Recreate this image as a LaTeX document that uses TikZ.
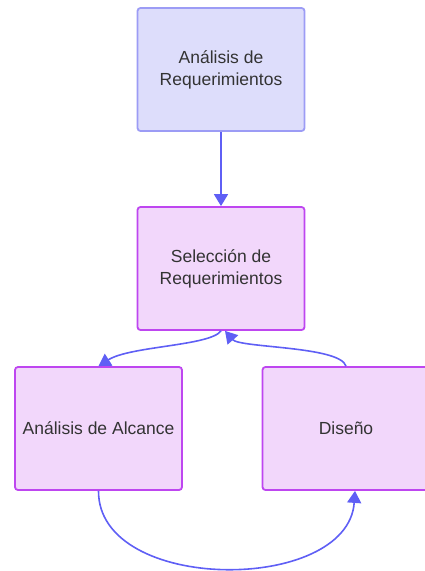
\documentclass[tikz,border=0pt]{standalone}
\usepackage{fontspec}
\setmainfont{Liberation Sans}
\usetikzlibrary{arrows.meta}
\definecolor{reqfill}{RGB}{221,221,251}
\definecolor{reqline}{RGB}{156,156,245}
\definecolor{stepfill}{RGB}{242,215,251}
\definecolor{stepline}{RGB}{190,70,240}
\definecolor{flow}{RGB}{95,95,245}
\definecolor{label}{RGB}{51,51,51}
\tikzset{
  x=1pt, y=-1pt,
  box/.style={draw, line width=1.8pt, rounded corners=3pt,
    minimum width=167pt, minimum height=123pt, inner sep=0pt,
    align=center, text=label, font=\fontsize{17.5}{22}\selectfont},
  reqbox/.style={box, fill=reqfill, draw=reqline},
  stepbox/.style={box, fill=stepfill, draw=stepline},
  flowline/.style={draw=flow, line width=1.6pt,
    -{Triangle[length=12pt,width=14pt]}}
}
\begin{document}
\begin{tikzpicture}
\useasboundingbox (0,0) rectangle (424,571);
\node[reqbox]  (req) at (221,69.5)  {Análisis de\\Requerimientos};
\node[stepbox] (sel) at (221,268.5) {Selección de\\Requerimientos};
\node[stepbox] (ana) at (98.5,428.5) {Análisis de Alcance};
\node[stepbox] (dis) at (346,428.5) {Diseño};

\draw[flowline] (req.south) -- (sel.north);
\draw[flowline] (sel.south) .. controls (210,346) and (130,346) .. (ana.north);
\draw[flowline] (dis.north) .. controls (340,346) and (240,348) .. ([xshift=4pt]sel.south);
\draw[flowline] (ana.south) .. controls (98,594) and (348,594) .. ([xshift=9pt]dis.south);
\end{tikzpicture}
\end{document}
